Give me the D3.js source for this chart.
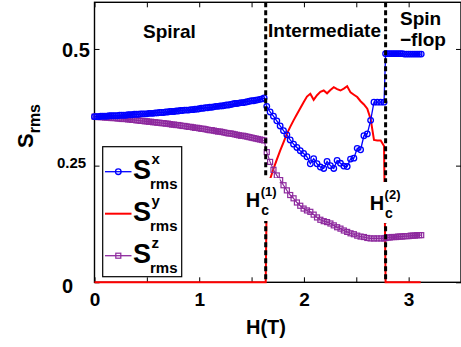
<!DOCTYPE html>
<html>
<head>
<meta charset="utf-8">
<script src="https://cdn.jsdelivr.net/npm/d3@7"></script>
<style>
  body { margin: 0; background: #fff; }
  svg { display: block; }
  text { font-family: "Liberation Sans", Arial, Helvetica, sans-serif; font-weight: bold; fill: #000; }
</style>
</head>
<body>
<svg id="chart" width="461" height="347"></svg>
<script>
// ---- field grids (T) ----
const spiralH = [0,0.02,0.04,0.06,0.08,0.10,0.12,0.14,0.16,0.18,0.20,0.22,0.24,0.26,0.28,0.30,0.32,0.34,0.36,0.38,
  0.40,0.42,0.44,0.46,0.48,0.50,0.52,0.54,0.56,0.58,0.60,0.62,0.64,0.66,0.68,0.70,0.72,0.74,0.76,0.78,
  0.80,0.82,0.84,0.86,0.88,0.90,0.92,0.94,0.96,0.98,1.00,1.02,1.04,1.06,1.08,1.10,1.12,1.14,1.16,1.18,
  1.20,1.22,1.24,1.26,1.28,1.30,1.32,1.34,1.36,1.38,1.40,1.42,1.44,1.46,1.48,1.50,1.52,1.54,1.56,1.58,1.60,1.62];
const midH = [1.645,1.677,1.709,1.741,1.773,1.805,1.837,1.869,1.901,1.933,1.965,1.997,2.029,2.061,2.093,2.125,2.157,2.189,
  2.221,2.253,2.285,2.317,2.349,2.381,2.413,2.445,2.477,2.509,2.541,2.573,2.605,2.637,2.669,2.701,2.733,2.765];
const flopH = [2.78,2.80,2.82,2.84,2.86,2.88,2.90,2.92,2.94,2.96,2.98,3.00,3.02,3.04,3.06,3.08,3.10,3.12];
const criticalH = [1.635, 2.78];

// ---- S_rms^x ----
const sxSpiral = [0.355,0.355,0.355,0.356,0.356,0.356,0.356,0.357,0.357,0.357,
  0.357,0.357,0.358,0.358,0.358,0.358,0.359,0.359,0.359,0.360,
  0.360,0.360,0.361,0.361,0.361,0.361,0.362,0.362,0.362,0.363,
  0.363,0.364,0.364,0.364,0.365,0.365,0.366,0.366,0.366,0.367,
  0.367,0.368,0.368,0.369,0.369,0.369,0.370,0.370,0.371,0.371,
  0.372,0.373,0.373,0.374,0.374,0.375,0.375,0.376,0.377,0.377,
  0.378,0.378,0.379,0.380,0.380,0.381,0.382,0.383,0.383,0.384,
  0.385,0.385,0.386,0.387,0.388,0.389,0.389,0.390,0.391,0.392,
  0.393,0.395];
const sxMid = [0.377,0.365,0.356,0.346,0.335,0.325,0.316,0.305,0.296,0.289,
  0.282,0.276,0.269,0.254,0.265,0.254,0.247,0.244,0.259,0.250,
  0.244,0.261,0.255,0.249,0.248,0.264,0.266,0.287,0.284,0.314,
  0.318,0.347,0.386,0.386,0.386,0.386];
const sxFlop = [0.490,0.490,0.490,0.490,0.490,0.490,0.490,0.490,0.490,
  0.489,0.489,0.489,0.489,0.489,0.489,0.489,0.489,0.489];

// ---- S_rms^y (zero outside the intermediate phase) ----
const syLowH = [0, 1.635];
const syLow = [0, 0];
const syMid = [0.196,0.221,0.243,0.263,0.282,0.300,0.318,0.333,0.347,0.360,
  0.373,0.386,0.398,0.404,0.391,0.401,0.408,0.411,0.405,0.412,
  0.418,0.414,0.411,0.415,0.420,0.407,0.402,0.397,0.388,0.381,
  0.372,0.350,0.305,0.304,0.304,0.292];
const syHighH = [2.78, 3.115];
const syHigh = [0, 0];

// ---- S_rms^z ----
const szSpiral = [0.355,0.355,0.354,0.354,0.354,0.353,0.353,0.353,0.352,0.352,
  0.352,0.351,0.351,0.350,0.350,0.350,0.349,0.349,0.348,0.348,
  0.347,0.347,0.346,0.346,0.345,0.345,0.344,0.344,0.343,0.343,
  0.342,0.342,0.341,0.341,0.340,0.340,0.339,0.338,0.338,0.337,
  0.337,0.336,0.335,0.335,0.334,0.333,0.333,0.332,0.331,0.331,
  0.330,0.329,0.329,0.328,0.327,0.326,0.326,0.325,0.324,0.323,
  0.323,0.322,0.321,0.320,0.319,0.319,0.318,0.317,0.316,0.315,
  0.314,0.314,0.313,0.312,0.311,0.310,0.309,0.308,0.307,0.306,
  0.305,0.304];
const szMid = [0.279,0.258,0.241,0.229,0.219,0.208,0.197,0.187,0.180,0.171,
  0.164,0.158,0.154,0.151,0.145,0.139,0.134,0.131,0.129,0.126,
  0.122,0.118,0.115,0.111,0.108,0.105,0.103,0.100,0.098,0.097,
  0.095,0.094,0.094,0.094,0.094,0.094];
const szFlop = [0.095,0.096,0.096,0.097,0.097,0.097,0.098,0.098,0.098,
  0.099,0.099,0.099,0.100,0.100,0.100,0.101,0.101,0.101];

// ---- axes ----
const xTicks = [0,0.5,1,1.5,2,2.5,3,3.5];
const yTicks = [0,0.25,0.5];
const yTickLabels = ["0","0.25","0.5"];
const phaseNames = ["Spiral","Intermediate","Spin","\u2212flop"];

const colors = { x: "#0000ff", y: "#ff0000", z: "#8e2a9e" };

const svg = d3.select("#chart");
const xs = d3.scaleLinear().domain([0, 3.5]).range([94.5, 461]);
const ys = d3.scaleLinear().domain([0, 0.6]).range([282.3, 2.3]);

const zip = (hs, ss) => hs.map((h, i) => [h, ss[i]]);
const sx = zip(spiralH, sxSpiral).concat(zip(midH, sxMid), zip(flopH, sxFlop));
const sy = zip(syLowH, syLow).concat(zip(midH, syMid), zip(syHighH, syHigh));
const sz = zip(spiralH, szSpiral).concat(zip(midH, szMid), zip(flopH, szFlop));

const line = d3.line().x(d => xs(d[0])).y(d => ys(d[1]));

// frame with inward ticks
const axG = svg.append("g");
const axBottom = axG.append("g").attr("transform", `translate(0,${ys(0)})`)
  .call(d3.axisBottom(xs).tickValues(xTicks).tickSizeInner(-5).tickSizeOuter(0)
    .tickFormat(d => Number.isInteger(d) ? d : ""));
axG.append("g").attr("transform", `translate(0,${ys(0.6)})`)
  .call(d3.axisTop(xs).tickValues(xTicks).tickSizeInner(-5).tickSizeOuter(0).tickFormat(""));
const axLeft = axG.append("g").attr("transform", `translate(${xs(0)},0)`)
  .call(d3.axisLeft(ys).tickValues(yTicks).tickSizeInner(-5).tickSizeOuter(0)
    .tickFormat((d, i) => yTickLabels[i]));
axG.append("g").attr("transform", `translate(${xs(3.5)},0)`)
  .call(d3.axisRight(ys).tickValues(yTicks).tickSizeInner(-5).tickSizeOuter(0).tickFormat(""));
axG.selectAll(".domain").remove();
axG.selectAll(".tick line").attr("stroke", "#000").attr("stroke-width", 1);
axBottom.selectAll("text").attr("y", 24).attr("dy", null).style("font-size", "19px");
axLeft.selectAll("text").attr("x", -32.5).attr("dy", "0.38em").attr("text-anchor", "start").style("font-size", "20px");
axLeft.selectAll(".tick").filter(d => d === 0.25).select("text")
  .attr("x", -37.5).attr("dy", "0.1em").style("font-size", "15px");
axLeft.selectAll(".tick").filter(d => d === 0).select("text").attr("dy", "0.5em");
axG.append("rect").attr("x", xs(0)).attr("y", ys(0.6))
  .attr("width", xs(3.5) - xs(0)).attr("height", ys(0) - ys(0.6))
  .attr("fill", "none").attr("stroke", "#000").attr("stroke-width", 1.4);

// S_y
svg.append("path").datum(sy).attr("d", line)
  .attr("fill", "none").attr("stroke", colors.y).attr("stroke-width", 2);

// S_z with squares
svg.append("path").datum(sz).attr("d", line)
  .attr("fill", "none").attr("stroke", colors.z).attr("stroke-width", 1.2);
svg.append("g").selectAll("rect").data(sz).join("rect")
  .attr("x", d => xs(d[0]) - 2.5).attr("y", d => ys(d[1]) - 2.5)
  .attr("width", 5).attr("height", 5)
  .attr("fill", "none").attr("stroke", colors.z).attr("stroke-width", 1.2);

// S_x with circles
svg.append("path").datum(sx).attr("d", line)
  .attr("fill", "none").attr("stroke", colors.x).attr("stroke-width", 1.3);
svg.append("g").selectAll("circle").data(sx).join("circle")
  .attr("cx", d => xs(d[0])).attr("cy", d => ys(d[1])).attr("r", 2.8)
  .attr("fill", "none").attr("stroke", colors.x).attr("stroke-width", 1.3);

// phase boundaries
svg.append("g").selectAll("line").data(criticalH).join("line")
  .attr("x1", d => xs(d)).attr("x2", d => xs(d))
  .attr("y1", ys(0.6)).attr("y2", ys(0))
  .attr("stroke", "#000").attr("stroke-width", 3).attr("stroke-dasharray", "5,3");

// critical field labels
const hcLabels = [
  { h: criticalH[0], sup: "(1)", shift: -5, box: [-23, 178, 37, 43], base: 207 },
  { h: criticalH[1], sup: "(2)", shift: -1, box: [-17, 182, 39, 41], base: 210 }
];
hcLabels.forEach(l => {
  const cx = xs(l.h) + l.shift;
  svg.append("rect").attr("x", xs(l.h) + l.box[0]).attr("y", l.box[1])
    .attr("width", l.box[2]).attr("height", l.box[3]).attr("fill", "#fff");
  svg.append("text").attr("x", cx - 0.5).attr("y", l.base).attr("text-anchor", "end")
    .style("font-size", "20px").text("H");
  svg.append("text").attr("x", cx).attr("y", l.base - 11)
    .style("font-size", "13px").text(l.sup);
  svg.append("text").attr("x", cx + 0.5).attr("y", l.base + 7.5)
    .style("font-size", "14px").text("c");
});

// phase names
svg.append("text").attr("x", 143).attr("y", 38).style("font-size", "19px").text(phaseNames[0]);
svg.append("text").attr("x", 268).attr("y", 37).style("font-size", "19px").text(phaseNames[1]);
svg.append("text").attr("x", 400).attr("y", 25).style("font-size", "19px").text(phaseNames[2]);
svg.append("text").attr("x", 400).attr("y", 46).style("font-size", "19px").text(phaseNames[3]);

// axis titles
svg.append("text").attr("x", 266).attr("y", 334).attr("text-anchor", "middle")
  .style("font-size", "20px").text("H(T)");
const yl = svg.append("text").attr("transform", "translate(33,126) rotate(-90)")
  .attr("text-anchor", "middle");
yl.append("tspan").style("font-size", "22px").text("S");
yl.append("tspan").style("font-size", "16px").attr("dy", 7).text("rms");

// legend
const legend = svg.append("g");
legend.append("rect").attr("x", 102.7).attr("y", 146.7).attr("width", 79).attr("height", 130)
  .attr("fill", "#fff").attr("stroke", "#000").attr("stroke-width", 1.2);
const entries = [
  { key: "x", c: colors.x, mark: "circle" },
  { key: "y", c: colors.y, mark: null },
  { key: "z", c: colors.z, mark: "square" }
];
entries.forEach((e, i) => {
  const ly = 171.7 + i * 42;
  legend.append("line").attr("x1", 105).attr("x2", 131.5).attr("y1", ly).attr("y2", ly)
    .attr("stroke", e.c).attr("stroke-width", e.mark ? 1.3 : 2);
  if (e.mark === "circle") {
    legend.append("circle").attr("cx", 118.3).attr("cy", ly).attr("r", 2.8)
      .attr("fill", "none").attr("stroke", e.c).attr("stroke-width", 1.3);
  } else if (e.mark === "square") {
    legend.append("rect").attr("x", 115.8).attr("y", ly - 2.5).attr("width", 5).attr("height", 5)
      .attr("fill", "none").attr("stroke", e.c).attr("stroke-width", 1.2);
  }
  legend.append("text").attr("x", 133).attr("y", ly + 7.5).style("font-size", "27px").text("S");
  legend.append("text").attr("x", 151.5).attr("y", ly - 7.5).style("font-size", "15px").text(e.key);
  legend.append("text").attr("x", 150).attr("y", ly + 17.5).style("font-size", "15px").text("rms");
});
</script>
</body>
</html>
